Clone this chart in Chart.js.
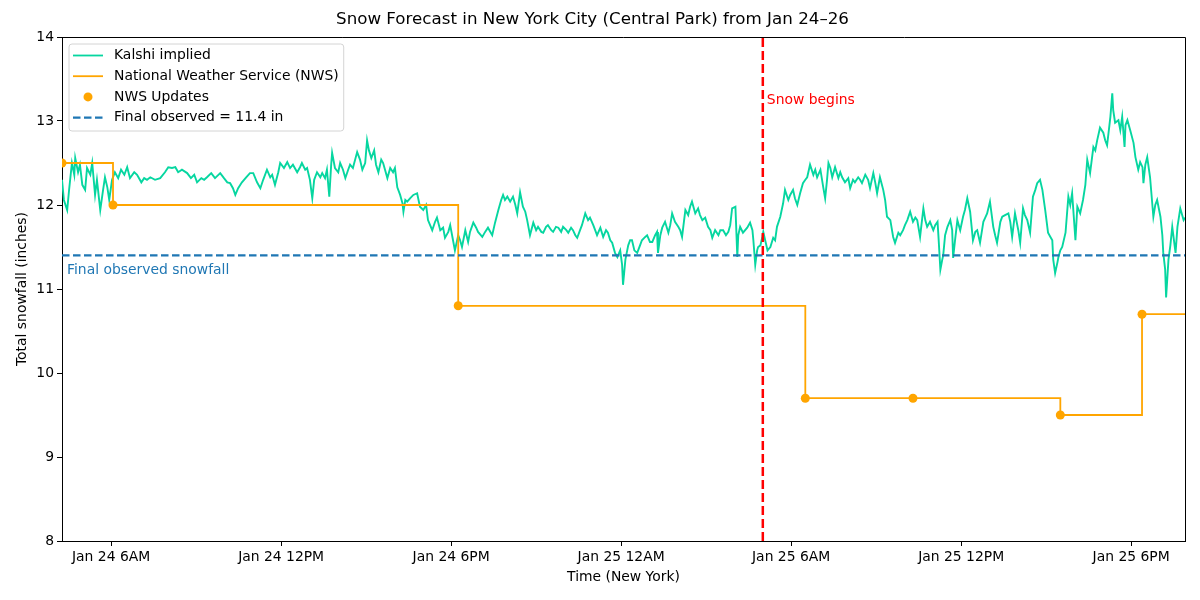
<!DOCTYPE html>
<html>
<head>
<meta charset="utf-8">
<script src="https://cdn.jsdelivr.net/npm/chart.js@4.4.1/dist/chart.umd.min.js"></script>
<style>
  html, body { margin: 0; padding: 0; background: #fff; }
  #wrap { width: 1200px; height: 600px; position: relative; }
</style>
</head>
<body>
<div id="wrap"><canvas id="c"></canvas></div>
<script>
// ---------- DATA (time = minutes since Jan 24 00:00, New York) ----------
const titleText = 'Snow Forecast in New York City (Central Park) from Jan 24\u201326';
const xAxisTitle = 'Time (New York)';
const yAxisTitle = 'Total snowfall (inches)';

const xTickMinutes = [360, 720, 1080, 1440, 1800, 2160, 2520];
const xTickLabels = ['Jan 24 6AM', 'Jan 24 12PM', 'Jan 24 6PM', 'Jan 25 12AM', 'Jan 25 6AM', 'Jan 25 12PM', 'Jan 25 6PM'];
const xMin = 256;
const xMax = 2634;
const yTicks = [8, 9, 10, 11, 12, 13, 14];

// Kalshi implied snowfall: [minute, inches]
const kalshiSeries = [
[256,12.30],[260,12.06],[267,11.94],[271,12.18],[277,12.50],[282,12.36],[284,12.56],[290,12.39],[294,12.48],[299,12.24],[305,12.18],[309,12.44],[316,12.36],[320,12.50],[326,12.12],[330,12.30],[337,11.94],[343,12.18],[347,12.33],[352,12.21],[356,12.06],[362,12.30],[368,12.39],[375,12.32],[381,12.42],[388,12.36],[394,12.45],[400,12.32],[409,12.39],[415,12.36],[424,12.27],[430,12.32],[436,12.30],[443,12.33],[453,12.30],[464,12.32],[474,12.39],[481,12.45],[489,12.44],[496,12.45],[502,12.39],[510,12.42],[521,12.38],[529,12.32],[536,12.36],[542,12.27],[551,12.32],[557,12.30],[563,12.33],[572,12.38],[580,12.32],[591,12.38],[599,12.32],[606,12.27],[612,12.26],[618,12.20],[623,12.12],[629,12.20],[637,12.27],[646,12.33],[654,12.38],[661,12.38],[669,12.27],[676,12.20],[682,12.30],[690,12.42],[697,12.33],[701,12.36],[707,12.24],[714,12.39],[718,12.50],[726,12.44],[733,12.51],[739,12.44],[745,12.48],[754,12.39],[760,12.45],[764,12.50],[771,12.42],[775,12.44],[781,12.30],[786,12.08],[790,12.30],[796,12.39],[803,12.33],[807,12.38],[813,12.32],[817,12.42],[822,12.10],[826,12.48],[828,12.62],[834,12.44],[841,12.39],[845,12.50],[851,12.42],[856,12.32],[862,12.42],[866,12.48],[872,12.44],[881,12.63],[887,12.54],[892,12.42],[898,12.50],[902,12.77],[906,12.65],[911,12.56],[917,12.65],[921,12.48],[926,12.39],[932,12.54],[936,12.50],[940,12.42],[945,12.32],[951,12.44],[957,12.39],[961,12.44],[966,12.21],[972,12.12],[977,12.02],[979,11.92],[983,12.06],[987,12.04],[993,12.08],[1000,12.12],[1008,12.14],[1014,11.98],[1021,11.94],[1027,12.00],[1031,11.82],[1040,11.70],[1046,11.80],[1050,11.85],[1057,11.70],[1063,11.73],[1067,11.61],[1074,11.68],[1078,11.76],[1084,11.58],[1088,11.46],[1095,11.64],[1099,11.58],[1103,11.50],[1110,11.70],[1116,11.56],[1120,11.68],[1127,11.79],[1133,11.73],[1137,11.68],[1146,11.62],[1152,11.68],[1158,11.73],[1167,11.64],[1173,11.79],[1180,11.94],[1186,12.06],[1190,12.12],[1194,12.06],[1199,12.10],[1205,12.04],[1211,12.10],[1216,12.00],[1220,11.90],[1226,12.15],[1232,11.98],[1237,11.92],[1241,11.82],[1247,11.64],[1254,11.79],[1260,11.70],[1264,11.74],[1271,11.68],[1275,11.67],[1281,11.74],[1285,11.76],[1292,11.70],[1296,11.68],[1302,11.74],[1307,11.73],[1313,11.68],[1317,11.74],[1324,11.70],[1328,11.67],[1334,11.73],[1338,11.70],[1343,11.64],[1347,11.61],[1353,11.70],[1357,11.76],[1364,11.90],[1370,11.82],[1374,11.85],[1381,11.76],[1385,11.70],[1389,11.64],[1396,11.73],[1402,11.62],[1408,11.70],[1412,11.67],[1417,11.58],[1421,11.55],[1427,11.43],[1432,11.38],[1438,11.46],[1442,11.29],[1444,11.05],[1449,11.35],[1455,11.52],[1459,11.58],[1463,11.58],[1468,11.46],[1474,11.43],[1480,11.52],[1484,11.58],[1491,11.62],[1495,11.64],[1501,11.56],[1506,11.56],[1512,11.64],[1516,11.68],[1518,11.43],[1523,11.64],[1527,11.73],[1533,11.80],[1540,11.67],[1544,11.76],[1548,11.90],[1554,11.80],[1561,11.74],[1565,11.70],[1569,11.62],[1576,11.94],[1582,11.88],[1586,11.98],[1590,12.04],[1597,11.90],[1603,11.96],[1607,11.88],[1612,11.82],[1618,11.85],[1624,11.74],[1629,11.70],[1633,11.61],[1639,11.70],[1646,11.64],[1650,11.70],[1656,11.70],[1662,11.64],[1667,11.68],[1671,11.76],[1675,11.96],[1682,11.98],[1686,11.38],[1688,11.64],[1692,11.74],[1698,11.67],[1707,11.73],[1713,11.79],[1718,11.70],[1720,11.58],[1724,11.29],[1728,11.46],[1730,11.50],[1735,11.52],[1739,11.62],[1741,11.68],[1745,11.58],[1750,11.46],[1756,11.50],[1762,11.61],[1766,11.58],[1770,11.74],[1777,11.86],[1783,12.02],[1787,12.18],[1794,12.06],[1798,12.12],[1804,12.18],[1808,12.08],[1813,12.00],[1819,12.14],[1825,12.26],[1830,12.30],[1834,12.33],[1840,12.48],[1847,12.36],[1851,12.42],[1855,12.33],[1862,12.42],[1868,12.21],[1872,12.08],[1876,12.30],[1879,12.50],[1883,12.44],[1887,12.33],[1893,12.45],[1900,12.32],[1904,12.39],[1908,12.33],[1914,12.27],[1921,12.32],[1925,12.20],[1931,12.30],[1935,12.27],[1942,12.33],[1946,12.30],[1950,12.26],[1957,12.36],[1963,12.30],[1967,12.20],[1974,12.38],[1978,12.27],[1982,12.14],[1988,12.33],[1995,12.18],[1999,12.06],[2003,11.86],[2010,11.82],[2016,11.62],[2020,11.55],[2027,11.67],[2031,11.64],[2037,11.70],[2041,11.76],[2046,11.82],[2052,11.92],[2058,11.80],[2063,11.85],[2067,11.82],[2073,11.62],[2080,11.96],[2084,11.82],[2088,11.74],[2094,11.80],[2101,11.70],[2105,11.76],[2110,11.80],[2112,11.62],[2116,11.23],[2120,11.35],[2122,11.40],[2126,11.64],[2131,11.74],[2137,11.82],[2141,11.70],[2143,11.37],[2147,11.58],[2152,11.82],[2158,11.70],[2164,11.86],[2168,11.94],[2173,12.08],[2179,11.92],[2185,11.58],[2190,11.68],[2194,11.70],[2200,11.55],[2207,11.80],[2211,11.85],[2215,11.90],[2221,12.04],[2228,11.74],[2232,11.64],[2236,11.55],[2243,11.80],[2247,11.86],[2253,11.88],[2260,11.90],[2264,11.80],[2268,11.62],[2274,11.90],[2281,11.70],[2285,11.55],[2291,11.96],[2295,11.88],[2300,11.82],[2306,11.67],[2312,12.10],[2317,12.18],[2321,12.26],[2327,12.30],[2332,12.18],[2338,11.94],[2344,11.67],[2349,11.62],[2353,11.58],[2355,11.35],[2359,11.19],[2364,11.32],[2366,11.38],[2370,11.46],[2374,11.50],[2381,11.67],[2387,12.10],[2391,12.00],[2395,12.14],[2402,11.58],[2406,11.98],[2412,11.90],[2418,12.06],[2423,12.24],[2427,12.54],[2433,12.38],[2440,12.69],[2444,12.65],[2448,12.77],[2454,12.92],[2461,12.86],[2465,12.77],[2469,12.71],[2474,12.95],[2476,13.05],[2480,13.33],[2482,13.13],[2486,12.98],[2493,13.01],[2497,12.89],[2501,13.05],[2506,12.69],[2508,12.95],[2512,13.01],[2518,12.89],[2525,12.74],[2529,12.57],[2535,12.42],[2539,12.51],[2544,12.45],[2546,12.26],[2550,12.48],[2554,12.57],[2560,12.33],[2567,11.86],[2571,12.00],[2575,12.06],[2582,11.86],[2586,11.64],[2588,11.43],[2592,11.23],[2594,10.90],[2599,11.35],[2603,11.52],[2607,11.74],[2614,11.43],[2618,11.74],[2624,11.96],[2631,11.82],[2634,11.85]
];

// NWS forecast updates
const nwsTimes = [256, 364, 1095, 1830, 2058, 2370, 2543];
const nwsValues = [12.5, 12.0, 10.8, 9.7, 9.7, 9.5, 10.7];

const finalObserved = 11.4;
const snowBeginsTime = 1740; // Jan 25 5:00 AM

const labels = {
  kalshi: 'Kalshi implied',
  nws: 'National Weather Service (NWS)',
  nwsPts: 'NWS Updates',
  finalObs: 'Final observed = ' + finalObserved + ' in',
  snowBegins: 'Snow begins',
  finalNote: 'Final observed snowfall'
};

const colors = {
  kalshi: '#06d6a0',
  nws: '#ffa500',
  final: '#1f77b4',
  snow: '#ff0000'
};

// ---------- build library data ----------
const kalshiData = kalshiSeries.map(p => ({ x: p[0], y: p[1] }));
const nwsStep = [];
for (let i = 0; i < nwsTimes.length; i++) {
  nwsStep.push({ x: nwsTimes[i], y: nwsValues[i] });
  const nextT = i + 1 < nwsTimes.length ? nwsTimes[i + 1] : xMax;
  nwsStep.push({ x: nextT, y: nwsValues[i] });
}
const nwsPoints = nwsTimes.map((t, i) => ({ x: t, y: nwsValues[i] }));
const finalLine = [{ x: xMin, y: finalObserved }, { x: xMax, y: finalObserved }];
const snowLine = [{ x: snowBeginsTime, y: yTicks[0] }, { x: snowBeginsTime, y: yTicks[yTicks.length - 1] }];

Chart.defaults.font.family = '"DejaVu Sans", sans-serif';
Chart.defaults.color = '#000';

const FONT = 13.9;

const framePlugin = {
  id: 'frame',
  afterDatasetsDraw(chart) {
    const { ctx, chartArea: a, scales } = chart;
    ctx.save();
    ctx.font = FONT + 'px "DejaVu Sans"';
    ctx.textBaseline = 'middle';
    ctx.textAlign = 'left';
    ctx.fillStyle = colors.snow;
    ctx.fillText(labels.snowBegins, scales.x.getPixelForValue(snowBeginsTime) + 4, scales.y.getPixelForValue(13.24));
    ctx.fillStyle = colors.final;
    ctx.fillText(labels.finalNote, a.left + 5, scales.y.getPixelForValue(11.22));
    ctx.restore();
  },
  afterDraw(chart) {
    const { ctx, chartArea: a } = chart;
    ctx.save();
    ctx.strokeStyle = '#000';
    ctx.lineWidth = 1;
    ctx.beginPath();
    ctx.moveTo(a.left, a.top + 0.5);
    ctx.lineTo(a.right + 0.5, a.top + 0.5);
    ctx.lineTo(a.right + 0.5, a.bottom);
    ctx.stroke();

    ctx.font = FONT + 'px "DejaVu Sans"';
    const items = [
      { text: labels.kalshi, kind: 'line', color: colors.kalshi, width: 1.8, dash: [] },
      { text: labels.nws, kind: 'line', color: colors.nws, width: 1.8, dash: [] },
      { text: labels.nwsPts, kind: 'dot', color: colors.nws },
      { text: labels.finalObs, kind: 'line', color: colors.final, width: 2.2, dash: [7.5, 3.5] }
    ];
    const maxW = Math.max(...items.map(it => ctx.measureText(it.text).width));
    const bx = a.left + 7, by = a.top + 7;
    const bw = 45 + maxW + 5, bh = 87;
    const r = 3;
    ctx.beginPath();
    ctx.moveTo(bx + r, by);
    ctx.lineTo(bx + bw - r, by);
    ctx.quadraticCurveTo(bx + bw, by, bx + bw, by + r);
    ctx.lineTo(bx + bw, by + bh - r);
    ctx.quadraticCurveTo(bx + bw, by + bh, bx + bw - r, by + bh);
    ctx.lineTo(bx + r, by + bh);
    ctx.quadraticCurveTo(bx, by + bh, bx, by + bh - r);
    ctx.lineTo(bx, by + r);
    ctx.quadraticCurveTo(bx, by, bx + r, by);
    ctx.closePath();
    ctx.fillStyle = 'rgba(255,255,255,0.85)';
    ctx.fill();
    ctx.strokeStyle = '#d4d4d4';
    ctx.lineWidth = 1;
    ctx.stroke();

    items.forEach((it, i) => {
      const cy = by + 11.5 + i * 20.7;
      if (it.kind === 'line') {
        ctx.strokeStyle = it.color;
        ctx.lineWidth = it.width;
        ctx.setLineDash(it.dash);
        ctx.beginPath();
        ctx.moveTo(bx + 4, cy);
        ctx.lineTo(bx + 34, cy);
        ctx.stroke();
        ctx.setLineDash([]);
      } else {
        ctx.fillStyle = it.color;
        ctx.beginPath();
        ctx.arc(bx + 19, cy, 4.5, 0, Math.PI * 2);
        ctx.fill();
      }
      ctx.fillStyle = '#000';
      ctx.textBaseline = 'middle';
      ctx.textAlign = 'left';
      ctx.fillText(it.text, bx + 45, cy);
    });
    ctx.restore();
  }
};

new Chart(document.getElementById('c'), {
  type: 'line',
  data: {
    datasets: [
      { label: labels.kalshi, data: kalshiData, borderColor: colors.kalshi, borderWidth: 1.9,
        pointRadius: 0, tension: 0, order: 4 },
      { label: labels.nws, data: nwsStep, borderColor: colors.nws, borderWidth: 1.8,
        pointRadius: 0, tension: 0, order: 3 },
      { label: labels.nwsPts, data: nwsPoints, showLine: false, borderColor: colors.nws,
        backgroundColor: colors.nws, pointRadius: 4.5, pointBorderWidth: 0, order: 2 },
      { label: labels.finalObs, data: finalLine, borderColor: colors.final, borderWidth: 2.2,
        borderDash: [7.5, 3.5], pointRadius: 0, order: 1 },
      { label: labels.snowBegins, data: snowLine, borderColor: colors.snow, borderWidth: 2.5,
        borderDash: [9, 4], pointRadius: 0, order: 0 }
    ]
  },
  options: {
    responsive: true,
    maintainAspectRatio: false,
    animation: false,
    events: [],
    layout: { padding: { left: 0, right: 15, top: 0, bottom: 0 } },
    plugins: {
      legend: { display: false },
      tooltip: { enabled: false },
      title: {
        display: true,
        text: titleText,
        color: '#000',
        font: { size: 16.7, weight: 'normal' },
        padding: { top: 10, bottom: 6.96 }
      }
    },
    scales: {
      x: {
        type: 'linear',
        min: xMin,
        max: xMax,
        afterBuildTicks: (s) => { s.ticks = xTickMinutes.map(v => ({ value: v })); },
        afterFit: (s) => { s.height = 59; },
        ticks: {
          autoSkip: false,
          maxRotation: 0,
          padding: 3,
          font: { size: FONT },
          color: '#000',
          callback: (v) => { const i = xTickMinutes.indexOf(v); return i >= 0 ? xTickLabels[i] : ''; }
        },
        grid: { drawOnChartArea: false, drawTicks: true, tickLength: 5, color: '#000', lineWidth: 1 },
        border: { display: true, color: '#000', width: 1 },
        title: { display: true, text: xAxisTitle, color: '#000', font: { size: FONT }, padding: { top: 0, bottom: 14.5 } }
      },
      y: {
        min: yTicks[0],
        max: yTicks[yTicks.length - 1],
        afterBuildTicks: (s) => { s.ticks = yTicks.map(v => ({ value: v })); },
        afterFit: (s) => { s.width = 62; },
        ticks: { padding: 3, font: { size: FONT }, color: '#000' },
        grid: { drawOnChartArea: false, drawTicks: true, tickLength: 5, color: '#000', lineWidth: 1 },
        border: { display: true, color: '#000', width: 1 },
        title: { display: true, text: yAxisTitle, color: '#000', font: { size: FONT }, padding: { top: 14, bottom: 0 } }
      }
    }
  },
  plugins: [framePlugin]
});
</script>
</body>
</html>
